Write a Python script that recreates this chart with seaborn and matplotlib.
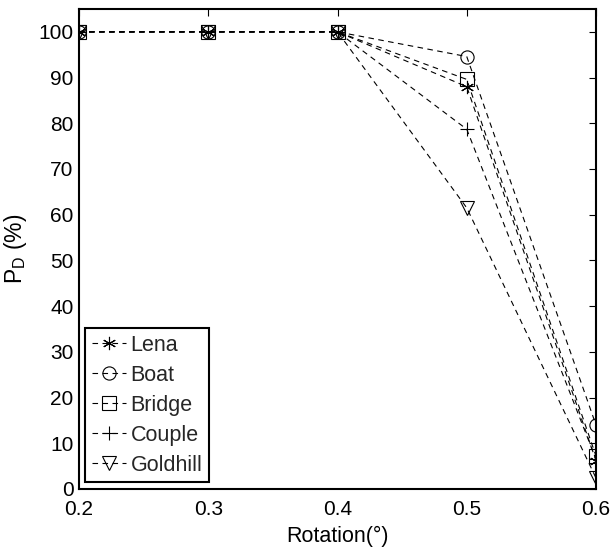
import matplotlib
matplotlib.use("Agg")
import matplotlib.pyplot as plt
import seaborn as sns
import pandas as pd

rotation = [0.2, 0.3, 0.4, 0.5, 0.6]
lena = [100, 100, 100, 88.0, 6.2]
boat = [100, 100, 100, 94.6, 14.0]
bridge = [100, 100, 100, 89.6, 7.2]
couple = [100, 100, 100, 78.7, 6.5]
goldhill = [100, 100, 100, 61.5, 2.4]

series = {"Lena": lena, "Boat": boat, "Bridge": bridge,
          "Couple": couple, "Goldhill": goldhill}
markers = {"Lena": (6, 2, 0), "Boat": "o", "Bridge": "s",
           "Couple": "+", "Goldhill": "v"}

rows = []
for name, vals in series.items():
    for x, y in zip(rotation, vals):
        rows.append({"Rotation": x, "PD": y, "Image": name})
df = pd.DataFrame(rows)

sns.set_theme(style="white")
plt.rcParams["font.family"] = ["Liberation Sans", "DejaVu Sans"]
plt.rcParams["mathtext.fontset"] = "custom"
plt.rcParams["mathtext.rm"] = "Liberation Sans"
plt.rcParams["mathtext.it"] = "Liberation Sans"

fig = plt.figure(figsize=(6.11, 5.51), dpi=100)
ax = fig.add_axes([79 / 611, 1 - 489 / 551, (596 - 79) / 611, (489 - 9) / 551])

for name in series:
    sub = df[df["Image"] == name]
    sns.lineplot(data=sub, x="Rotation", y="PD", ax=ax, color="black",
                 linestyle=(0, (5, 4)), linewidth=0.8,
                 marker=markers[name], markersize=9.5,
                 markerfacecolor="none", markeredgecolor="black",
                 markeredgewidth=0.8, label=name)

ax.set_xlim(0.2, 0.6)
ax.set_ylim(0, 105)
ax.set_xticks(rotation)
ax.set_xticklabels(["0.2", "0.3", "0.4", "0.5", "0.6"])
ax.set_yticks(range(0, 101, 10))
ax.tick_params(direction="in", length=5, width=0.8, top=True, right=True,
               labelsize=15, colors="black")
ax.tick_params(axis="x", pad=8)
ax.tick_params(axis="y", pad=4)
for s in ax.spines.values():
    s.set_color("black")
    s.set_linewidth(1.5)

ax.set_xlabel("Rotation(°)", fontsize=15.5, color="black", labelpad=5)
ax.set_ylabel(r"$\mathregular{P_D}$ (%)", fontsize=16.5, color="black", labelpad=7)

leg = ax.legend(loc="lower left", bbox_to_anchor=(0.004, 0.005), frameon=True,
                fancybox=False, edgecolor="black", fontsize=15.5,
                handlelength=1.6, handletextpad=0.2, borderpad=0.3,
                labelspacing=0.42, borderaxespad=0.2)
leg.get_frame().set_linewidth(1.5)
leg.get_frame().set_alpha(1)

fig.savefig("out.png", dpi=100)
